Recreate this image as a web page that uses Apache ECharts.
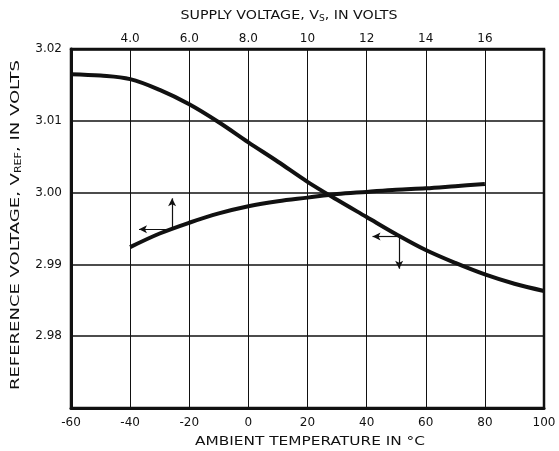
<!DOCTYPE html>
<html>
<head>
<meta charset="utf-8">
<script src="https://cdn.jsdelivr.net/npm/echarts@6/dist/echarts.min.js"></script>
<style>
  html, body { margin: 0; padding: 0; background: #fff; }
  #chart { width: 559px; height: 451px; }
</style>
</head>
<body>
<div id="chart"></div>
<script>
// Reference voltage vs ambient temperature (bottom axis)
const tempC = [-60, -50, -40, -30, -20, -10, 0, 10, 20, 30, 40, 50, 60, 70, 80, 90, 100];
const vrefVsTemp = [3.0165, 3.0163, 3.0158, 3.0143, 3.0123, 3.0098, 3.0070, 3.0043, 3.0015, 2.9990, 2.9966, 2.9942, 2.9920, 2.9902, 2.9886, 2.9873, 2.9863];

// Reference voltage vs supply voltage (top axis)
const supplyV = [4, 5, 6, 7, 8, 9, 10, 11, 12, 13, 14, 15, 16];
const vrefVsSupply = [2.9924, 2.9943, 2.9958, 2.9971, 2.9981, 2.9988, 2.9993, 2.9998, 3.0001, 3.0004, 3.0006, 3.0009, 3.0012];

// Tick labels
const tempTicks = ['-60', '-40', '-20', '0', '20', '40', '60', '80', '100'];
const supplyTicks = ['', '4.0', '6.0', '8.0', '10', '12', '14', '16', ''];
const vrefTicks = ['', '2.98', '2.99', '3.00', '3.01', '3.02'];

// Axis titles (rich text: {sub|..} marks a subscript)
const topTitle = ['SUPPLY VOLTAGE, V', 'S', ', IN VOLTS'];
const leftTitle = ['REFERENCE VOLTAGE, V', 'REF', ', IN VOLTS'];
const bottomTitle = 'AMBIENT TEMPERATURE IN °C';

const FONT = 'DejaVu Sans';
const INK = '#111';

// measure a title so it can be stretched to the wide lettering of the plate
const ctx = document.createElement('canvas').getContext('2d');
function textWidth(parts, size, subSize) {
  let w = 0;
  parts.forEach((p, i) => {
    ctx.font = (i === 1 ? subSize : size) + 'px "' + FONT + '"';
    w += ctx.measureText(p).width;
  });
  return w;
}
const richSub = { sub: { fontFamily: FONT, fontSize: 8, fill: INK, verticalAlign: 'bottom', padding: [6, 0, 0, 0] } };

function titleText(parts, size, cx, cy, targetWidth, rotation) {
  const isRich = Array.isArray(parts);
  const text = isRich ? parts[0] + '{sub|' + parts[1] + '}' + parts[2] : parts;
  const w = textWidth(isRich ? parts : [parts], size, 8);
  return {
    type: 'text', x: cx, y: cy, rotation: rotation || 0,
    scaleX: targetWidth / w, scaleY: 1,
    silent: true,
    style: {
      text: text, fill: INK, fontFamily: FONT, fontSize: size,
      align: 'center', verticalAlign: 'middle',
      rich: isRich ? richSub : undefined
    }
  };
}

const chart = echarts.init(document.getElementById('chart'), null, { renderer: 'canvas' });

const arrowLine = { color: INK, width: 1.2, type: 'solid' };

chart.setOption({
  animation: false,
  backgroundColor: '#fff',
  grid: {
    left: 71, right: 15, top: 49, bottom: 43,
    show: true, borderColor: INK, borderWidth: 2.5, backgroundColor: 'transparent'
  },
  graphic: [
    titleText(topTitle, 12.5, 289, 16, 217, 0),
    titleText(bottomTitle, 12.5, 310, 442, 230, 0),
    titleText(leftTitle, 13, 16, 225, 330, Math.PI / 2)
  ],
  xAxis: [
    {
      type: 'value', position: 'bottom',
      min: -60, max: 100, interval: 20,
      axisLine: { show: true, onZero: false, lineStyle: { color: INK, width: 3 } },
      axisTick: { show: false },
      splitLine: { show: true, lineStyle: { color: INK, width: 1 } },
      axisLabel: {
        color: INK, fontFamily: FONT, fontSize: 12, margin: 9,
        formatter: (v) => tempTicks[Math.round((v + 60) / 20)]
      }
    },
    {
      type: 'value', position: 'top',
      min: 2, max: 18, interval: 2,
      axisLine: { show: true, onZero: false, lineStyle: { color: INK, width: 2.5 } },
      axisTick: { show: false },
      splitLine: { show: false },
      axisLabel: {
        color: INK, fontFamily: FONT, fontSize: 12, margin: 4,
        formatter: (v) => supplyTicks[Math.round((v - 2) / 2)]
      }
    }
  ],
  yAxis: [
    {
      type: 'value',
      min: 2.97, max: 3.02, interval: 0.01,
      axisLine: { show: true, onZero: false, lineStyle: { color: INK, width: 3 } },
      axisTick: { show: false },
      splitLine: { show: true, lineStyle: { color: INK, width: 1.6 } },
      axisLabel: {
        color: INK, fontFamily: FONT, fontSize: 12, margin: 9,
        formatter: (v) => vrefTicks[Math.round((v - 2.97) / 0.01)]
      }
    }
  ],
  series: [
    {
      type: 'line', name: 'vs temperature',
      xAxisIndex: 0, yAxisIndex: 0,
      data: tempC.map((t, i) => [t, vrefVsTemp[i]]),
      smooth: 0.35, showSymbol: false, symbol: 'none',
      lineStyle: { color: INK, width: 4, cap: 'butt' },
      z: 5,
      markLine: {
        silent: true, animation: false,
        symbol: ['none', 'arrow'], symbolSize: [6, 8],
        label: { show: false },
        lineStyle: arrowLine,
        data: [
          [{ coord: [51, 2.9939] }, { coord: [42, 2.9939] }],
          [{ coord: [51, 2.9939] }, { coord: [51, 2.9894] }]
        ]
      }
    },
    {
      type: 'line', name: 'vs supply',
      xAxisIndex: 1, yAxisIndex: 0,
      data: supplyV.map((v, i) => [v, vrefVsSupply[i]]),
      smooth: 0.35, showSymbol: false, symbol: 'none',
      lineStyle: { color: INK, width: 4, cap: 'butt' },
      z: 5,
      markLine: {
        silent: true, animation: false,
        symbol: ['none', 'arrow'], symbolSize: [6, 8],
        label: { show: false },
        lineStyle: arrowLine,
        data: [
          [{ coord: [5.42, 2.9949] }, { coord: [4.3, 2.9949] }],
          [{ coord: [5.42, 2.9949] }, { coord: [5.42, 2.9992] }]
        ]
      }
    }
  ]
});
</script>
</body>
</html>
